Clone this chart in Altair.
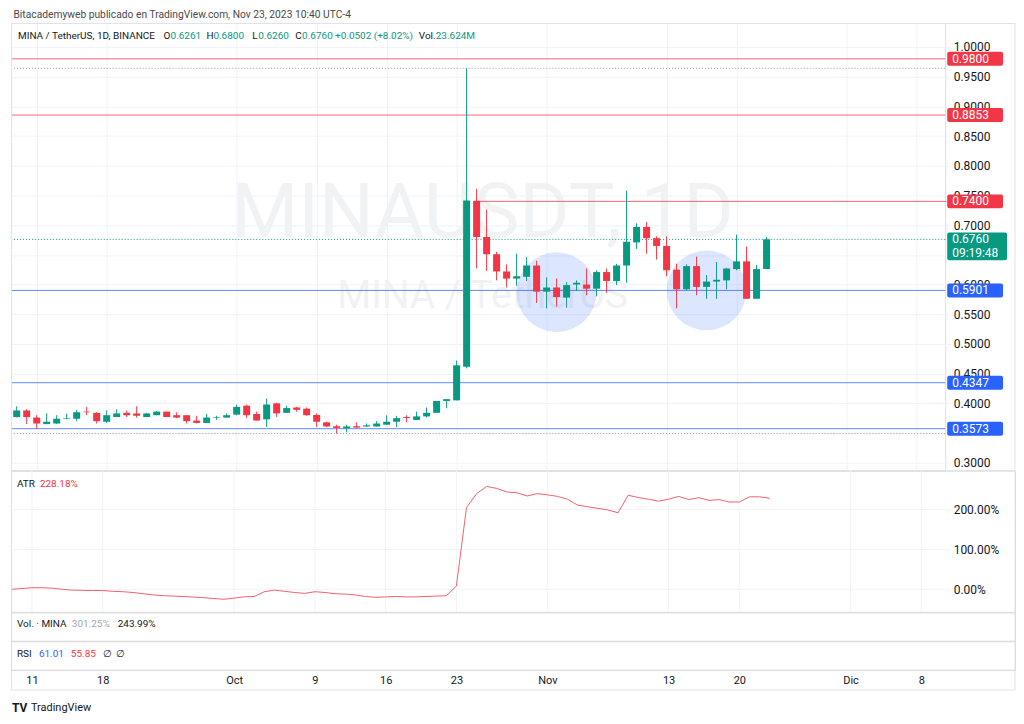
import altair as alt
import pandas as pd

FONT = "Roboto"
GREEN = "#089981"
RED = "#f23645"
BLUE = "#2962ff"
GRID = "#f0f3fa"
FRAME = "#e0e3eb"
TXT = "#131722"

# ---------------- data ----------------
start_date = "2023-09-09"
opens = [0.377, 0.388, 0.376, 0.365, 0.366, 0.374, 0.374, 0.386, 0.384, 0.369,
         0.377, 0.384, 0.383, 0.377, 0.380, 0.386, 0.380, 0.380, 0.371, 0.367,
         0.376, 0.376, 0.381, 0.396, 0.382, 0.373, 0.400, 0.384, 0.393, 0.391,
         0.3805, 0.368, 0.3614, 0.358, 0.3614, 0.361, 0.361, 0.364, 0.369, 0.377,
         0.372, 0.378, 0.384, 0.404, 0.405, 0.4617, 0.741, 0.680, 0.651, 0.622,
         0.610, 0.613, 0.632, 0.588, 0.595, 0.578, 0.600, 0.600, 0.593, 0.621,
         0.606, 0.632, 0.671, 0.697, 0.678, 0.665, 0.625, 0.592, 0.631, 0.596,
         0.605, 0.607, 0.626, 0.639, 0.576, 0.6261]
highs = [0.395, 0.390, 0.380, 0.383, 0.380, 0.3825, 0.389, 0.394, 0.385, 0.388,
         0.390, 0.388, 0.395, 0.384, 0.387, 0.386, 0.385, 0.380, 0.379, 0.382,
         0.379, 0.383, 0.398, 0.398, 0.386, 0.408, 0.401, 0.396, 0.394, 0.393,
         0.383, 0.369, 0.364, 0.364, 0.368, 0.366, 0.370, 0.380, 0.379, 0.380,
         0.386, 0.393, 0.404, 0.407, 0.472, 0.964, 0.761, 0.726, 0.655, 0.634,
         0.652, 0.646, 0.640, 0.612, 0.610, 0.604, 0.607, 0.627, 0.624, 0.627,
         0.635, 0.758, 0.703, 0.705, 0.681, 0.681, 0.635, 0.634, 0.647, 0.616,
         0.638, 0.628, 0.684, 0.664, 0.633, 0.680]
lows = [0.376, 0.365, 0.357, 0.365, 0.365, 0.373, 0.370, 0.380, 0.366, 0.367,
        0.377, 0.377, 0.376, 0.377, 0.380, 0.377, 0.375, 0.366, 0.366, 0.367,
        0.372, 0.376, 0.380, 0.375, 0.371, 0.360, 0.377, 0.384, 0.386, 0.379,
        0.360, 0.360, 0.349, 0.351, 0.358, 0.360, 0.361, 0.364, 0.360, 0.368,
        0.372, 0.376, 0.384, 0.392, 0.405, 0.4589, 0.627, 0.623, 0.607, 0.595,
        0.598, 0.606, 0.569, 0.560, 0.563, 0.561, 0.589, 0.582, 0.580, 0.586,
        0.599, 0.603, 0.660, 0.652, 0.642, 0.614, 0.560, 0.590, 0.582, 0.576,
        0.576, 0.592, 0.624, 0.576, 0.576, 0.626]
closes = [0.388, 0.377, 0.366, 0.369, 0.374, 0.375, 0.385, 0.385, 0.370, 0.380,
          0.383, 0.380, 0.379, 0.383, 0.386, 0.377, 0.376, 0.370, 0.367, 0.376,
          0.377, 0.380, 0.394, 0.380, 0.371, 0.398, 0.383, 0.392, 0.389, 0.380,
          0.369, 0.361, 0.3586, 0.361, 0.3592, 0.363, 0.366, 0.369, 0.375, 0.3754,
          0.378, 0.384, 0.404, 0.407, 0.464, 0.7415, 0.680, 0.651, 0.622, 0.610,
          0.614, 0.632, 0.588, 0.595, 0.579, 0.599, 0.603, 0.593, 0.621, 0.606,
          0.632, 0.672, 0.697, 0.678, 0.665, 0.624, 0.592, 0.631, 0.596, 0.605,
          0.608, 0.627, 0.639, 0.576, 0.626, 0.676]
atr_vals = [0, 2, 4, 4, 3, 0, -2, -2.5, -3, -3,
            -5, -6, -8, -11, -14, -16, -17, -18, -19.5, -21,
            -23, -25, -22, -19, -18, -6, -2, -5, -8, -10,
            -6, -8, -11, -12, -14, -18, -20, -19, -18, -19,
            -19, -18, -17, -16, 8, 205, 240, 258, 253, 244,
            242, 234, 240, 237, 233, 226, 211, 207, 203, 199,
            192, 236, 230, 226, 221, 226, 233, 225, 230, 223,
            225, 219, 219, 232, 232, 228.18]

price_ticks = [0.30, 0.35, 0.40, 0.45, 0.50, 0.55, 0.60, 0.65, 0.70,
               0.75, 0.80, 0.85, 0.90, 0.95, 1.00]
hidden_price_labels = ["0.3500", "0.6500"]   # fully covered by price boxes
atr_ticks = [0, 100, 200]

tick_dates = ["2023-09-11", "2023-09-18", "2023-10-01", "2023-10-09", "2023-10-16",
              "2023-10-23", "2023-11-01", "2023-11-13", "2023-11-20", "2023-12-01",
              "2023-12-08"]
tick_labels = ["11", "18", "Oct", "9", "16", "23", "Nov", "13", "20", "Dic", "8"]

full_lines_red = [0.98, 0.8853]
ray_red = [0.74]
lines_blue = [0.5901, 0.4347, 0.3573]
dotted_gray = [0.964, 0.349]
last_price = [0.676]

box_prices = [0.98, 0.8853, 0.74, 0.5901, 0.4347, 0.3573]
box_texts = ["0.9800", "0.8853", "0.7400", "0.5901", "0.4347", "0.3573"]
box_colors = [RED, RED, RED, BLUE, BLUE, BLUE]

circle_dates = ["2023-11-02", "2023-11-17"]
circle_prices = [0.587, 0.590]

# ---------------- tables ----------------
dates = pd.date_range(start_date, periods=len(opens), freq="D").strftime("%Y-%m-%d").tolist()
candles = pd.DataFrame({"date": dates, "open": opens, "high": highs,
                        "low": lows, "close": closes})
atr_df = pd.DataFrame({"date": dates, "atr": atr_vals})
boxes = pd.DataFrame({"price": box_prices, "label": box_texts, "col": box_colors})
circles = pd.DataFrame({"date": circle_dates, "price": circle_prices})
atr_grid = pd.DataFrame({"v": atr_ticks})
one = pd.DataFrame({"k": [0]})


def ms(s):
    return int(pd.Timestamp(s, tz="UTC").value // 10**6)


DAY = 86400000
x_domain = [ms(start_date) - int(0.072 * DAY), ms(start_date) + int(92.37 * DAY)]
tick_ms = [ms(d) for d in tick_dates]
label_expr = ("[" + ",".join("'%s'" % t for t in tick_labels) + "][indexof(["
              + ",".join(str(t) for t in tick_ms) + "], time(datum.value))]")
price_label_expr = ("indexof([" + ",".join("'%s'" % t for t in hidden_price_labels)
                    + "], format(datum.value, '.4f')) >= 0 ? '' : format(datum.value, '.4f')")

W = 937            # plotting width (time axis)
H_P, H_A, H_V, H_R = 449, 142, 29, 29
AX_H = 20
RIGHT = 1007       # full pane width incl. price-scale column
TOTAL = H_P + H_A + H_V + H_R + AX_H

x_scale = alt.Scale(type="utc", domain=x_domain, range=[0, W])


def x_enc(field="date", grid=True):
    return alt.X(field + ":T", scale=x_scale,
                 axis=alt.Axis(values=tick_ms, grid=grid, gridColor=GRID,
                               labels=False, ticks=False, domain=False, title=""))


y_scale_p = alt.Scale(domain=[0.2866, 1.0403], nice=False, zero=False)
y_axis_p = alt.Axis(orient="right", values=price_ticks, labelExpr=price_label_expr,
                    grid=True, gridColor=GRID, tickSize=5, tickColor=GRID, domain=False,
                    labelPadding=3, labelFontSize=12, labelColor=TXT,
                    labelFont=FONT, title="")


def yp(field):
    return alt.Y(field + ":Q", scale=y_scale_p, axis=y_axis_p)


def txt(text, x, y, color=TXT, size=10, weight="normal", align="left", baseline="middle"):
    return alt.Chart(one).mark_text(align=align, baseline=baseline, fontSize=size,
                                    font=FONT, color=color, fontWeight=weight).encode(
        x=alt.value(x), y=alt.value(y), text=alt.value(text))


def hrule(y):
    return alt.Chart(one).mark_rule(color=FRAME).encode(
        x=alt.value(0), x2=alt.value(RIGHT), y=alt.value(y))


def vrule(x, y1, y2):
    return alt.Chart(one).mark_rule(color=FRAME).encode(
        x=alt.value(x), y=alt.value(y1), y2=alt.value(y2))


# whole outer frame and pane separators, drawn once from the top pane
frame_marks = [
    hrule(0.5), hrule(H_P), hrule(H_P + H_A), hrule(H_P + H_A + H_V),
    hrule(H_P + H_A + H_V + H_R), hrule(TOTAL),
    vrule(0.5, 0, TOTAL), vrule(RIGHT, 0, TOTAL),
]

color_cond = alt.when(alt.datum.close >= alt.datum.open).then(
    alt.value(GREEN)).otherwise(alt.value(RED))

# ---------------- price panel ----------------
watermark1 = txt("MINAUSDT, 1D", 473, 215, color="#f1f2f4", size=77, align="center",
                 baseline="alphabetic")
watermark2 = txt("MINA / TetherUS", 473, 286, color="#f1f2f4", size=39, align="center",
                 baseline="alphabetic")

circ = alt.Chart(circles).mark_circle(size=6400, color=BLUE, opacity=0.16).encode(
    x=x_enc(), y=yp("price"))

red_full = alt.Chart(pd.DataFrame({"price": full_lines_red})).mark_rule(
    color=RED, opacity=0.75, strokeWidth=1).encode(y=yp("price"))
red_ray = alt.Chart(pd.DataFrame({"price": ray_red,
                                  "start": ["2023-10-24T18:00:00Z"],
                                  "end": ["2023-12-11T00:00:00Z"]})).mark_rule(
    color=RED, opacity=0.75, strokeWidth=1).encode(
    x=x_enc("start"), x2="end:T", y=yp("price"))
blue_full = alt.Chart(pd.DataFrame({"price": lines_blue})).mark_rule(
    color=BLUE, opacity=0.75, strokeWidth=1).encode(y=yp("price"))
gray_dot = alt.Chart(pd.DataFrame({"price": dotted_gray})).mark_rule(
    color="#9598a1", strokeWidth=1, strokeDash=[1, 2]).encode(y=yp("price"))
teal_dot = alt.Chart(pd.DataFrame({"price": last_price})).mark_rule(
    color=GREEN, strokeWidth=1, strokeDash=[1, 2]).encode(y=yp("price"))

wicks = alt.Chart(candles).mark_rule(strokeWidth=1).encode(
    x=x_enc(), y=yp("low"), y2="high:Q", color=color_cond)
bodies = alt.Chart(candles).mark_bar(size=7).encode(
    x=x_enc(), y=yp("open"), y2="close:Q", color=color_cond)

box_rects = alt.Chart(boxes).mark_rect(yOffset=-7, y2Offset=7, cornerRadius=2).encode(
    x=alt.value(939), x2=alt.value(995), y=yp("price"), y2=alt.Y2("price:Q"),
    color=alt.Color("col:N", scale=None))
box_txt = alt.Chart(boxes).mark_text(align="left", baseline="middle", fontSize=12,
                                     font=FONT, color="white").encode(
    x=alt.value(944), y=yp("price"), text="label:N")
last_df = pd.DataFrame({"price": last_price})
last_rect = alt.Chart(last_df).mark_rect(yOffset=-7, y2Offset=21, cornerRadius=2,
                                         color=GREEN).encode(
    x=alt.value(939), x2=alt.value(999), y=yp("price"), y2=alt.Y2("price:Q"))
last_txt1 = alt.Chart(last_df).mark_text(align="left", baseline="middle", fontSize=12,
                                         font=FONT, color="white").encode(
    x=alt.value(944), y=yp("price"), text=alt.value("0.6760"))
last_txt2 = alt.Chart(last_df).mark_text(align="left", baseline="middle", fontSize=12,
                                         font=FONT, color="white", dy=14).encode(
    x=alt.value(944), y=yp("price"), text=alt.value("09:19:48"))

header = [
    txt("MINA / TetherUS, 1D, BINANCE", 7, 13),
    txt("O", 153, 13), txt("0.6261", 160, 13, GREEN),
    txt("H", 196, 13), txt("0.6800", 203, 13, GREEN),
    txt("L", 242, 13), txt("0.6260", 248, 13, GREEN),
    txt("C", 285, 13), txt("0.6760", 292, 13, GREEN),
    txt("+0.0502 (+8.02%)", 325, 13, GREEN),
    txt("Vol.", 409, 13), txt("23.624M", 426, 13, GREEN),
]

price_panel = alt.layer(
    watermark1, watermark2, circ, red_full, red_ray, blue_full, gray_dot, teal_dot,
    wicks, bodies, box_rects, box_txt, last_rect, last_txt1, last_txt2,
    *header, *frame_marks
).properties(width=W, height=H_P)

# ---------------- ATR panel (pane spans full width, scale column inside) ----------------
y_scale_a = alt.Scale(domain=[-57.5, 297.5], nice=False, zero=False)
y_axis_a = alt.Axis(orient="right", offset=W - RIGHT, values=atr_ticks,
                    labelExpr="format(datum.value, '.2f') + '%'", grid=False,
                    tickSize=5, tickColor=GRID, domain=False,
                    labelPadding=3, labelFontSize=12, labelColor=TXT,
                    labelFont=FONT, title="")
atr_gridlines = alt.Chart(atr_grid).mark_rule(color=GRID).encode(
    x=alt.value(0), x2=alt.value(W), y=alt.Y("v:Q", scale=y_scale_a, axis=y_axis_a))
atr_vgrid = alt.Chart(pd.DataFrame({"d": tick_dates})).mark_rule(color=GRID).encode(
    x=alt.X("d:T", scale=x_scale, axis=None), y=alt.value(0), y2=alt.value(H_A))
atr_line = alt.Chart(atr_df).mark_line(color="#f0616d", strokeWidth=1).encode(
    x=alt.X("date:T", scale=x_scale, axis=None),
    y=alt.Y("atr:Q", scale=y_scale_a, axis=y_axis_a))
atr_panel = alt.layer(
    atr_gridlines, atr_vgrid, atr_line,
    txt("ATR", 6, 13), txt("228.18%", 29, 13, RED),
).properties(width=RIGHT, height=H_A)

# ---------------- Vol panel ----------------
vol_panel = alt.layer(
    txt("Vol. · MINA", 6, 12),
    txt("301.25%", 61, 12, "#a3a6af"),
    txt("243.99%", 107, 12),
).properties(width=RIGHT, height=H_V)

# ---------------- RSI panel + time axis ----------------
axis_holder = alt.Chart(candles).mark_point(opacity=0).encode(
    x=alt.X("date:T", scale=x_scale,
            axis=alt.Axis(values=tick_ms, labelExpr=label_expr, grid=False, ticks=False,
                          domain=False, labelFontSize=11, labelColor=TXT, labelFont=FONT,
                          labelPadding=4, labelOverlap=False, labelFlush=False, title="")),
    y=alt.value(0))
rsi_panel = alt.layer(
    axis_holder,
    txt("RSI", 6, 13), txt("61.01", 28, 13, BLUE), txt("55.85", 60, 13, RED),
    txt("∅", 92, 13), txt("∅", 105, 13),
    txt("TV", 1, 67, color=TXT, size=12, weight="bold"),
    txt("TradingView", 20, 67, color=TXT, size=11),
).properties(width=RIGHT, height=H_R)

chart = alt.vconcat(
    price_panel, atr_panel, vol_panel, rsi_panel, spacing=0, bounds="flush",
    title=alt.TitleParams(
        text="Bitacademyweb publicado en TradingView.com, Nov 23, 2023 10:40 UTC-4",
        anchor="start", fontSize=10.3, font=FONT, fontWeight="normal",
        color="#4a4a4a", dx=5, offset=2),
).properties(padding=0).configure_view(
    strokeWidth=0, stroke="transparent", strokeOpacity=0
).configure(background="white")

chart.save("out.html", embed_options={"renderer": "svg", "actions": False})
